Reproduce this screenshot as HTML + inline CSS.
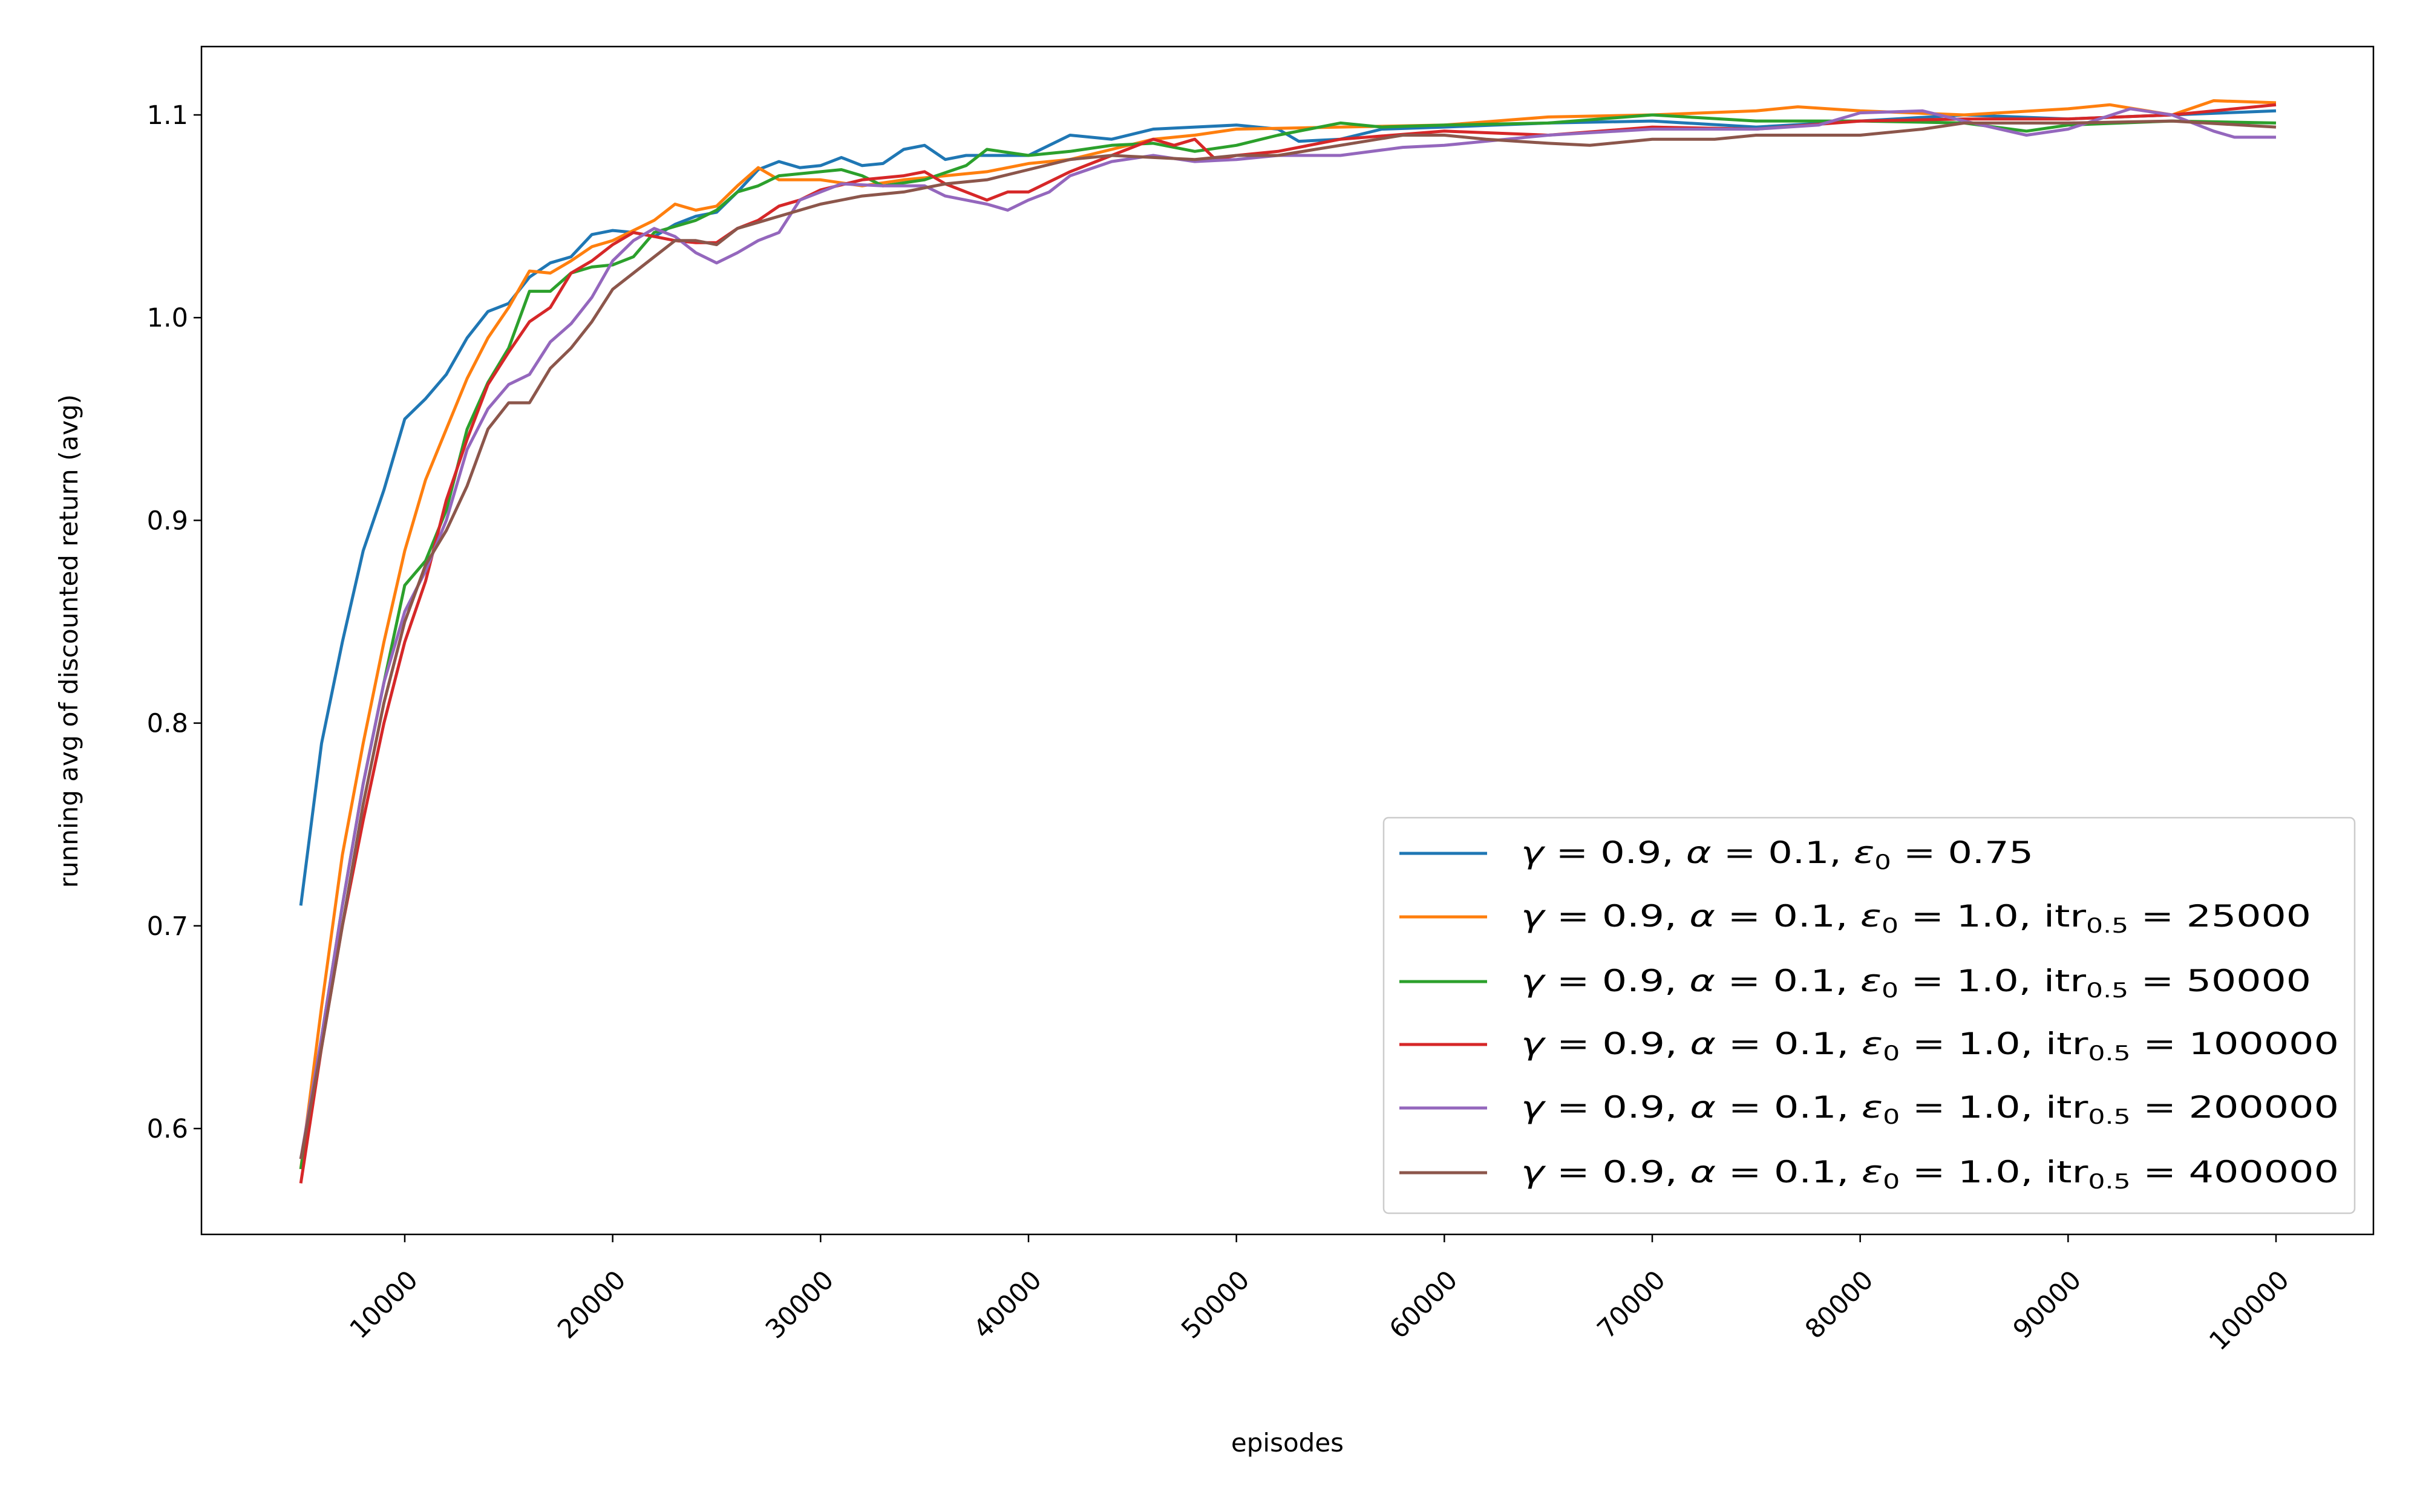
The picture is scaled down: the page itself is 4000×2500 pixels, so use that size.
<!DOCTYPE html>
<html><head><meta charset="utf-8"><style>body{margin:0;background:#fff}svg{display:block}</style></head>
<body>
<svg id="chart" width="4000" height="2500" xmlns="http://www.w3.org/2000/svg" font-family="'DejaVu Sans','Liberation Sans',sans-serif">
<rect width="4000" height="2500" fill="#fff"/>
<g id="plot"></g>
<text x="2128" y="2400" font-size="42" text-anchor="middle">episodes</text>
<text x="128" y="1060" font-size="42" text-anchor="middle" transform="rotate(-90 128 1060)">running avg of discounted return (avg)</text>
<g id="legend"></g>
</svg>
<script>
const xTicks=[10000,20000,30000,40000,50000,60000,70000,80000,90000,100000];
const yTicks=[0.6,0.7,0.8,0.9,1.0,1.1];
const yTickLabels=["0.6","0.7","0.8","0.9","1.0","1.1"];
const seriesLabels=["25000","50000","100000","200000","400000"];
const blueX=[5000,6000,7000,8000,9000,10000,11000,12000,13000,14000,15000,16000,17000,18000,19000,20000,21000,22000,23000,24000,25000,26000,27000,28000,29000,30000,31000,32000,33000,34000,35000,36000,37000,38000,40000,42000,44000,46000,48000,50000,52000,53000,55000,57000,60000,65000,70000,75000,80000,85000,90000,95000,100000];
const blueY=[0.71,0.79,0.84,0.885,0.915,0.95,0.96,0.972,0.99,1.003,1.007,1.02,1.027,1.03,1.041,1.043,1.042,1.04,1.046,1.05,1.052,1.062,1.073,1.077,1.074,1.075,1.079,1.075,1.076,1.083,1.085,1.078,1.08,1.08,1.08,1.09,1.088,1.093,1.094,1.095,1.093,1.087,1.088,1.093,1.094,1.096,1.097,1.094,1.097,1.1,1.098,1.1,1.102];
const orangeX=[5000,6000,7000,8000,9000,10000,11000,12000,13000,14000,15000,16000,17000,18000,19000,20000,22000,23000,24000,25000,26000,27000,28000,30000,32000,34000,36000,38000,40000,42000,44000,46000,48000,50000,55000,60000,65000,70000,75000,77000,80000,85000,90000,92000,95000,97000,100000];
const orangeY=[0.58,0.66,0.735,0.79,0.84,0.885,0.92,0.945,0.97,0.99,1.005,1.023,1.022,1.028,1.035,1.038,1.048,1.056,1.053,1.055,1.065,1.074,1.068,1.068,1.065,1.068,1.07,1.072,1.076,1.078,1.083,1.088,1.09,1.093,1.094,1.095,1.099,1.1,1.102,1.104,1.102,1.1,1.103,1.105,1.1,1.107,1.106];
const greenX=[5000,6000,7000,8000,9000,10000,11000,12000,13000,14000,15000,16000,17000,18000,19000,20000,21000,22000,23000,24000,25000,26000,27000,28000,30000,31000,32000,33000,35000,37000,38000,40000,42000,44000,46000,48000,50000,52000,55000,57000,60000,65000,70000,75000,80000,85000,88000,90000,95000,100000];
const greenY=[0.58,0.645,0.71,0.77,0.82,0.868,0.88,0.905,0.945,0.968,0.985,1.013,1.013,1.022,1.025,1.026,1.03,1.042,1.045,1.048,1.053,1.062,1.065,1.07,1.072,1.073,1.07,1.065,1.068,1.075,1.083,1.08,1.082,1.085,1.086,1.082,1.085,1.09,1.096,1.094,1.095,1.096,1.1,1.097,1.097,1.096,1.092,1.095,1.097,1.096];
const redX=[5000,6000,7000,8000,9000,10000,11000,12000,13000,14000,15000,16000,17000,18000,19000,20000,21000,22000,23000,24000,25000,26000,27000,28000,29000,30000,32000,34000,35000,36000,37000,38000,39000,40000,42000,44000,46000,47000,48000,49000,50000,52000,55000,60000,65000,70000,75000,80000,85000,90000,95000,100000];
const redY=[0.573,0.64,0.7,0.752,0.8,0.84,0.87,0.91,0.94,0.967,0.983,0.998,1.005,1.022,1.028,1.036,1.042,1.04,1.038,1.037,1.037,1.044,1.048,1.055,1.058,1.063,1.068,1.07,1.072,1.066,1.062,1.058,1.062,1.062,1.072,1.08,1.088,1.085,1.088,1.078,1.08,1.082,1.088,1.092,1.09,1.094,1.093,1.097,1.098,1.098,1.1,1.105];
const purpleX=[5000,6000,7000,8000,9000,10000,11000,12000,13000,14000,15000,16000,17000,18000,19000,20000,21000,22000,23000,24000,25000,26000,27000,28000,29000,30000,31000,33000,35000,36000,37000,38000,39000,40000,41000,42000,44000,46000,48000,50000,52000,55000,58000,60000,65000,70000,75000,78000,80000,83000,85000,88000,90000,93000,95000,97000,98000,100000];
const purpleY=[0.585,0.645,0.71,0.77,0.82,0.855,0.875,0.9,0.935,0.955,0.967,0.972,0.988,0.997,1.01,1.028,1.038,1.044,1.04,1.032,1.027,1.032,1.038,1.042,1.058,1.062,1.066,1.065,1.065,1.06,1.058,1.056,1.053,1.058,1.062,1.07,1.077,1.08,1.077,1.078,1.08,1.08,1.084,1.085,1.09,1.093,1.093,1.095,1.101,1.102,1.097,1.09,1.093,1.103,1.1,1.092,1.089,1.089];
const brownX=[5000,6000,7000,8000,9000,10000,11000,12000,13000,14000,15000,16000,17000,18000,19000,20000,21000,22000,23000,24000,25000,26000,27000,28000,30000,32000,34000,36000,38000,40000,42000,44000,46000,48000,50000,52000,55000,58000,60000,62000,65000,67000,70000,73000,75000,80000,83000,85000,90000,95000,100000];
const brownY=[0.585,0.64,0.7,0.76,0.81,0.85,0.878,0.895,0.917,0.945,0.958,0.958,0.975,0.985,0.998,1.014,1.022,1.03,1.038,1.038,1.036,1.044,1.047,1.05,1.056,1.06,1.062,1.066,1.068,1.073,1.078,1.08,1.079,1.078,1.08,1.08,1.085,1.09,1.09,1.088,1.086,1.085,1.088,1.088,1.09,1.09,1.093,1.096,1.096,1.097,1.094];

const NS="http://www.w3.org/2000/svg";
const L=333,R=3923,T=77,B=2041;
const xs=v=>669+(v-10000)*(3762-669)/90000;
const ys=v=>1866-(v-0.6)*(1866-190)/0.5;
const plot=document.getElementById('plot');
function mk(tag,attrs,parent){const e=document.createElementNS(NS,tag);for(const k in attrs)e.setAttribute(k,attrs[k]);parent.appendChild(e);return e;}

const series=[[blueX,blueY,'#1f77b4'],[orangeX,orangeY,'#ff7f0e'],[greenX,greenY,'#2ca02c'],[redX,redY,'#d62728'],[purpleX,purpleY,'#9467bd'],[brownX,brownY,'#8c564b']];
const names=['series-eps-0.75','series-itr-25000','series-itr-50000','series-itr-100000','series-itr-200000','series-itr-400000'];
series.forEach((s,i)=>{
  const d=s[0].map((x,j)=>(j?'L':'M')+xs(x).toFixed(1)+','+ys(s[1][j]).toFixed(1)).join(' ');
  const p=mk('path',{d:d,fill:'none',stroke:s[2],'stroke-width':5,'stroke-linejoin':'round'},plot);
  
  
});
const frame=mk('rect',{x:L,y:T,width:R-L,height:B-T,fill:'none',stroke:'#000','stroke-width':2.5},plot);


xTicks.forEach(v=>{
  const x=xs(v);
  mk('line',{x1:x,y1:B,x2:x,y2:B+13,stroke:'#000','stroke-width':2.5},plot);
  const t=mk('text',{x:x+24,y:B+78,'font-size':43,'text-anchor':'end',transform:`rotate(-45 ${x+24} ${B+78})`},plot);
  t.textContent=String(v);
  
  
});
yTicks.forEach((v,i)=>{
  const y=ys(v);
  mk('line',{x1:L-13,y1:y,x2:L,y2:y,stroke:'#000','stroke-width':2.5},plot);
  const t=mk('text',{x:L-22,y:y+15,'font-size':43,'text-anchor':'end'},plot);
  t.textContent=yTickLabels[i];
  
  
});
// legend
const lg=document.getElementById('legend');
mk('rect',{x:2287,y:1352,width:1605,height:654,rx:8,fill:'#fff','fill-opacity':0.8,stroke:'#ccc','stroke-width':2.5},lg);
const rowsY=[1411,1516,1623,1727,1832,1939];
const textW=[847,1306,1306,1352,1352,1352];
series.forEach((s,i)=>{
  const y=rowsY[i];
  const ln=mk('line',{x1:2313,y1:y,x2:2458,y2:y,stroke:s[2],'stroke-width':5},lg);
  
  
  const t=mk('text',{x:2514,y:y+16,'font-size':50,textLength:textW[i],lengthAdjust:'spacingAndGlyphs'},lg);
  
  
  let h='<tspan font-style="italic">γ</tspan> = 0.9, <tspan font-style="italic">α</tspan> = 0.1, <tspan font-style="italic">ε</tspan><tspan font-size="34" dy="10">0</tspan><tspan dy="-10"> = </tspan>';
  if(i===0) h+='0.75';
  else h+='1.0, itr<tspan font-size="34" dy="10">0.5</tspan><tspan dy="-10"> = '+seriesLabels[i-1]+'</tspan>';
  t.innerHTML=h;
});
</script>
</body></html>
